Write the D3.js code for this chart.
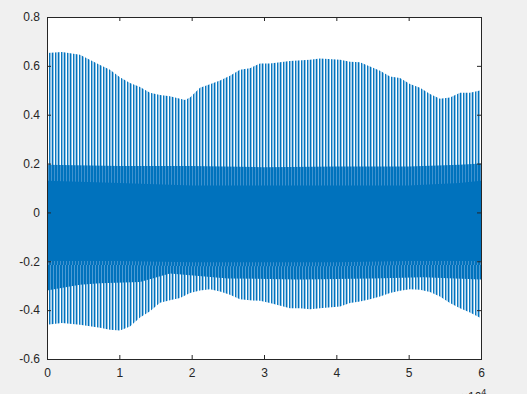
<!DOCTYPE html>
<html>
<head>
<meta charset="utf-8">
<script src="https://cdn.jsdelivr.net/npm/d3@7"></script>
<style>
  body { margin: 0; background: #f0f0f0; }
  svg { display: block; }
  .tick text { font-family: "Liberation Sans", Arial, sans-serif; font-size: 12px; fill: #262626; }
</style>
</head>
<body>
<div id="chart"></div>
<script>
// Envelope of the signal (sample index -> value)
const upperX = [0, 2070, 4560, 7330, 8710, 10090, 11470, 12860, 14240, 15620, 17000, 18390, 19080, 19770, 21150, 22530, 23920, 25300, 26680, 28060, 29450, 30830, 33590, 36360, 37740, 40510, 41890, 43270, 44650, 46040, 47420, 48800, 50180, 51570, 52950, 54330, 55710, 57100, 58480, 60000]
const upperY = [0.653, 0.657, 0.645, 0.604, 0.584, 0.553, 0.53, 0.513, 0.49, 0.481, 0.476, 0.465, 0.46, 0.47, 0.51, 0.525, 0.54, 0.56, 0.584, 0.59, 0.61, 0.61, 0.62, 0.625, 0.63, 0.625, 0.617, 0.615, 0.597, 0.58, 0.556, 0.55, 0.526, 0.51, 0.485, 0.465, 0.47, 0.49, 0.49, 0.50]

const lowerX = [0, 2070, 4560, 7330, 8710, 10090, 11470, 12860, 14240, 15620, 17000, 18390, 19770, 21150, 22530, 23920, 25300, 26680, 28060, 29450, 30830, 33590, 34980, 36360, 37740, 40510, 41890, 43270, 44650, 46040, 47420, 48800, 50180, 51570, 52950, 54330, 55710, 57100, 58480, 60000]
const lowerY = [-0.46, -0.453, -0.46, -0.472, -0.48, -0.483, -0.467, -0.43, -0.405, -0.37, -0.36, -0.35, -0.33, -0.32, -0.314, -0.324, -0.337, -0.355, -0.36, -0.362, -0.371, -0.392, -0.392, -0.396, -0.392, -0.385, -0.371, -0.365, -0.355, -0.344, -0.33, -0.321, -0.314, -0.317, -0.326, -0.344, -0.371, -0.392, -0.41, -0.433]

// denser band just below the core
const midX = [0, 4560, 7330, 12860, 17000, 25000, 35000, 45000, 52000, 60000]
const midY = [-0.32, -0.296, -0.29, -0.285, -0.25, -0.27, -0.275, -0.27, -0.265, -0.275]

// solid core of the signal
const coreX = [0, 10000, 20000, 30000, 40000, 50000, 57000, 60000]
const coreTop = [0.195, 0.19, 0.19, 0.185, 0.188, 0.188, 0.195, 0.2]
const coreBottom = [-0.215, -0.215, -0.22, -0.22, -0.22, -0.215, -0.215, -0.215]
const coreSolidTop = [0.13, 0.12, 0.11, 0.11, 0.11, 0.11, 0.12, 0.13]

const xTicks = [0, 1, 2, 3, 4, 5, 6]
const yTicks = [-0.6, -0.4, -0.2, 0, 0.2, 0.4, 0.6, 0.8]

const W = 527, H = 394
const margin = { top: 17, right: 46, bottom: 35, left: 47 }
const width = W - margin.left - margin.right
const height = H - margin.top - margin.bottom
const blue = "#0072BD"

const svg = d3.select("#chart").append("svg")
    .attr("width", W)
    .attr("height", H)

svg.append("rect").attr("width", W).attr("height", H).attr("fill", "#f0f0f0")

const defs = svg.append("defs")
function stripes(id, cols) {
  const p = defs.append("pattern")
    .attr("id", id)
    .attr("patternUnits", "userSpaceOnUse")
    .attr("x", margin.left).attr("y", 0)
    .attr("width", cols.length).attr("height", 10)
  cols.forEach((c, i) => {
    p.append("rect").attr("x", i).attr("y", 0).attr("width", 1).attr("height", 10)
      .attr("fill", c).attr("shape-rendering", "crispEdges")
  })
}
stripes("light", [blue, "#8ec1e4", "#ffffff", "#0a78c0", "#8ec1e4", "#b5d6ee"])
stripes("mid", [blue, "#4d9bd4", blue])
stripes("dense", [blue, blue, "#3f92cf"])

const g = svg.append("g")
    .attr("transform", "translate(" + margin.left + "," + margin.top + ")")

g.append("rect").attr("width", width).attr("height", height).attr("fill", "#fff")

const x = d3.scaleLinear().domain([0, 60000]).range([0, width])
const y = d3.scaleLinear().domain([-0.6, 0.8]).range([height, 0])

// outer envelope, striped
const upper = upperX.map((d, i) => [d, upperY[i]])
const lower = lowerX.map((d, i) => [d, lowerY[i]])

const envArea = d3.area().x(d => x(d[0])).y0(y(0)).y1(d => y(d[1]))

g.append("path").datum(upper).attr("d", envArea).attr("fill", "url(#light)")
g.append("path").datum(lower).attr("d", envArea).attr("fill", "url(#light)")

const mid = midX.map((d, i) => [d, midY[i]])
g.append("path").datum(mid).attr("d", envArea).attr("fill", "url(#mid)")

const core = coreX.map((d, i) => ({ x: d, top: coreTop[i], bot: coreBottom[i], solid: coreSolidTop[i] }))
g.append("path").datum(core)
    .attr("d", d3.area().x(d => x(d.x)).y0(d => y(d.bot)).y1(d => y(d.top)))
    .attr("fill", "url(#dense)")
g.append("path").datum(core)
    .attr("d", d3.area().x(d => x(d.x)).y0(d => y(d.bot) - 4).y1(d => y(d.solid)))
    .attr("fill", blue)

// axes
const axisColor = "#262626"
const xAxis = g.append("g").attr("transform", "translate(0," + height + ")")
    .call(d3.axisBottom(x).tickValues(xTicks.map(d => d * 10000)).tickFormat((d, i) => xTicks[i])
      .tickSizeInner(-4).tickSizeOuter(0).tickPadding(9))
const xTop = g.append("g")
    .call(d3.axisTop(x).tickValues(xTicks.map(d => d * 10000)).tickFormat("")
      .tickSizeInner(-4).tickSizeOuter(0))
const yAxis = g.append("g")
    .call(d3.axisLeft(y).tickValues(yTicks).tickFormat(d => String(+d.toFixed(1)))
      .tickSizeInner(-4).tickSizeOuter(0).tickPadding(7))
const yRight = g.append("g").attr("transform", "translate(" + width + ",0)")
    .call(d3.axisRight(y).tickValues(yTicks).tickFormat("")
      .tickSizeInner(-4).tickSizeOuter(0))

;[xAxis, xTop, yAxis, yRight].forEach(a => {
  a.selectAll("path, line").attr("stroke", axisColor)
  a.select(".domain").remove()
})

g.append("rect").attr("width", width).attr("height", height)
    .attr("fill", "none").attr("stroke", axisColor).attr("stroke-width", 1)
    .attr("shape-rendering", "crispEdges")

// exponent label (cut by the window edge, as in the original)
const ex = svg.append("text")
    .attr("x", 461).attr("y", 401)
    .attr("font-family", "Liberation Sans, Arial, sans-serif")
    .attr("font-size", 12).attr("fill", axisColor)
ex.append("tspan").text("×10")
ex.append("tspan").attr("dy", -6).attr("font-size", 9).text("4")
</script>
</body>
</html>
